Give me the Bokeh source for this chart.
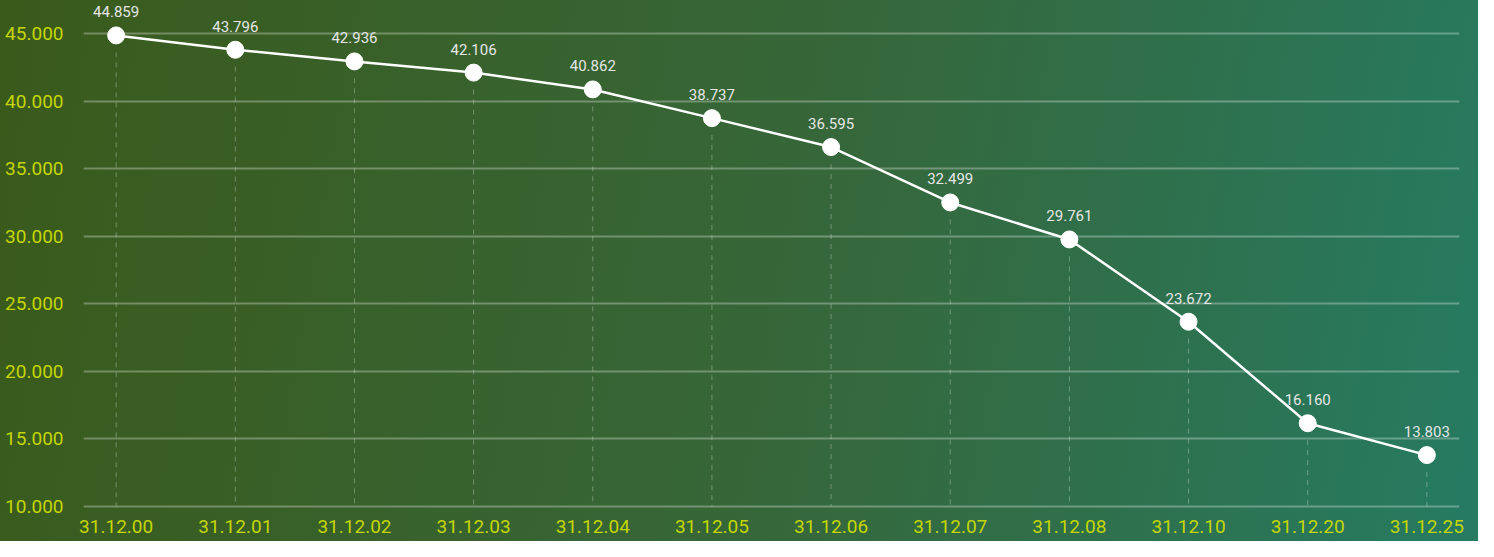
from bokeh.plotting import figure
from bokeh.models import ColumnDataSource, FixedTicker, LabelSet
from bokeh.embed import file_html
from bokeh.resources import INLINE
from bokeh.core.properties import value

dates = ["31.12.00", "31.12.01", "31.12.02", "31.12.03", "31.12.04", "31.12.05",
         "31.12.06", "31.12.07", "31.12.08", "31.12.10", "31.12.20", "31.12.25"]
values = [44859, 43796, 42936, 42106, 40862, 38737, 36595, 32499, 29761, 23672, 16160, 13803]
labels = ["44.859", "43.796", "42.936", "42.106", "40.862", "38.737",
          "36.595", "32.499", "29.761", "23.672", "16.160", "13.803"]
y_ticks = [10000, 15000, 20000, 25000, 30000, 35000, 40000, 45000]
y_tick_labels = ["10.000", "15.000", "20.000", "25.000", "30.000", "35.000", "40.000", "45.000"]

xs = list(range(len(dates)))
gap = 1250  # visual gap below marker for drop lines
src = ColumnDataSource(dict(x=xs, y=values, lab=labels,
                            y0=[v - gap for v in values], base=[10000] * len(values)))

p = figure(width=1478, height=541, output_backend="svg", toolbar_location=None,
           x_range=(-0.274, 11.274), y_range=(9852, 47442),
           min_border_left=83, min_border_right=19, min_border_top=0, min_border_bottom=33)
p.background_fill_alpha = 0
p.border_fill_alpha = 0
p.outline_line_color = None
p.styles = {"background": "linear-gradient(100deg, #3a5a1b 0%, #36673a 55%, #267b62 100%)"}

# axes
p.yaxis.ticker = FixedTicker(ticks=y_ticks)
p.yaxis.major_label_overrides = {t: l for t, l in zip(y_ticks, y_tick_labels)}
p.xaxis.ticker = FixedTicker(ticks=xs)
p.xaxis.major_label_overrides = {i: d for i, d in zip(xs, dates)}
for ax in (p.xaxis, p.yaxis):
    ax.axis_line_color = None
    ax.major_tick_line_color = None
    ax.minor_tick_line_color = None
    ax.major_label_text_color = "#c4d600"
    ax.major_label_text_font = "Roboto"
    ax.major_label_text_font_style = "normal"
p.yaxis.major_label_text_font_size = "19px"
p.yaxis.major_label_standoff = 14
p.xaxis.major_label_text_font_size = "19px"
p.xaxis.major_label_standoff = 5

p.xgrid.grid_line_color = None
p.ygrid.grid_line_color = "white"
p.ygrid.grid_line_alpha = 0.3
p.ygrid.grid_line_width = 2

# drop lines
p.segment(x0="x", y0="y0", x1="x", y1="base", source=src,
          line_color="white", line_alpha=0.3, line_width=1, line_dash="5 5")

p.line(x="x", y="y", source=src, line_color="white", line_width=2.5)
p.scatter(x="x", y="y", source=src, size=17, fill_color="white", line_color="white")

lbl = LabelSet(x="x", y="y", text="lab", source=src, y_offset=18,
               text_align="center", text_baseline="alphabetic",
               text_color="#e6e6e6", text_font_size="15px", text_font=value("Roboto"))
p.add_layout(lbl)

open("out.html", "w").write(file_html(p, INLINE))
